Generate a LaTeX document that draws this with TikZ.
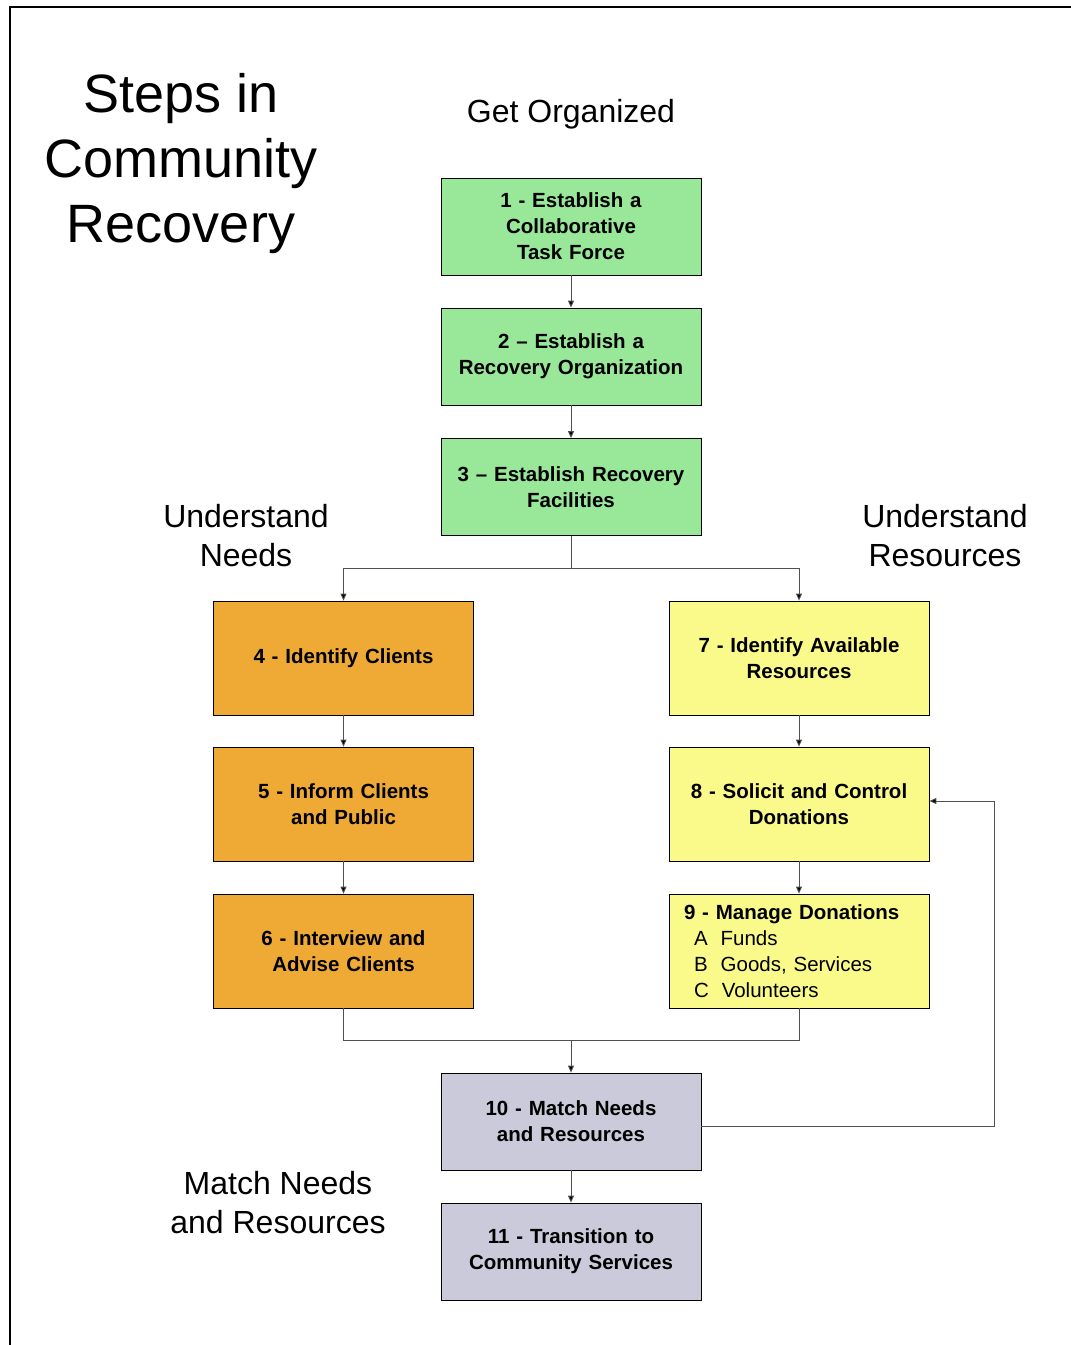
\documentclass[tikz,border=0pt]{standalone}
\usepackage{fontspec}
\setmainfont{Liberation Sans}
\usetikzlibrary{arrows.meta}
\definecolor{stepgreen}{RGB}{153,232,153}
\definecolor{steporange}{RGB}{238,170,53}
\definecolor{stepyellow}{RGB}{250,250,138}
\definecolor{steplilac}{RGB}{202,202,218}
\definecolor{linkgray}{RGB}{80,80,80}
\begin{document}
\begin{tikzpicture}[x=1pt,y=-1pt,
  stepbox/.style={draw=black, line width=0.8pt, minimum width=260pt, inner sep=0pt,
    text width=250pt, align=center, font=\bfseries\fontsize{20.5}{26}\selectfont},
  shortbox/.style={stepbox, minimum height=97pt},
  tallbox/.style={stepbox, minimum height=114pt},
  link/.style={draw=linkgray, line width=0.9pt, -{Triangle[length=7pt,width=6pt,fill=black]}},
  plain/.style={draw=linkgray, line width=0.9pt},
  heading/.style={align=center, font=\fontsize{32}{39}\selectfont}]
\useasboundingbox (0,0) rectangle (1071,1345);
% page frame
\draw[line width=1.6pt] (10,1345) -- (10,7) -- (1071,7);

% headings
\node[align=center, font=\fontsize{54}{65}\selectfont] (title) at (181,164) {Steps in\\Community\\Recovery};
\node[heading] (hgo) at (571,114) {Get Organized};
\node[heading] (hneeds) at (246,536) {Understand\\Needs};
\node[heading] (hres) at (945,536) {Understand\\Resources};
\node[heading] (hmatch) at (278,1203) {Match Needs\\and Resources};

% organisation column
\node[shortbox, fill=stepgreen] (s1) at (571,226.5) {1 - Establish a\\Collaborative\\Task Force};
\node[shortbox, fill=stepgreen] (s2) at (571,356.5) {2 -- Establish a\\Recovery Organization};
\node[shortbox, fill=stepgreen] (s3) at (571,487) {3 -- Establish Recovery\\Facilities};

% needs column
\node[tallbox, fill=steporange] (s4) at (343.5,658) {4 - Identify Clients};
\node[tallbox, fill=steporange] (s5) at (343.5,804) {5 - Inform Clients\\and Public};
\node[tallbox, fill=steporange] (s6) at (343.5,951) {6 - Interview and\\Advise Clients};

% resources column
\node[tallbox, fill=stepyellow] (s7) at (799,658) {7 - Identify Available\\Resources};
\node[tallbox, fill=stepyellow] (s8) at (799,804) {8 - Solicit and Control\\Donations};
\node[tallbox, fill=stepyellow, align=left, text width=230pt,
      font=\fontsize{20.5}{26}\selectfont] (s9) at (799,951)
  {\textbf{9 - Manage Donations}\\
   \hspace*{10pt}A\hspace{13pt}Funds\\
   \hspace*{10pt}B\hspace{13pt}Goods, Services\\
   \hspace*{10pt}C\hspace{13pt}Volunteers};

% matching column
\node[shortbox, fill=steplilac] (s10) at (571,1121.5) {10 - Match Needs\\and Resources};
\node[shortbox, fill=steplilac] (s11) at (571,1251.5) {11 - Transition to\\Community Services};

% junction points
\coordinate (split) at (571,568);
\coordinate (join) at (571,1040);
\coordinate (loop) at (994,1126);

% connectors
\draw[link] (s1) -- (s2);
\draw[link] (s2) -- (s3);
\draw[plain] (s3) -- (split);
\draw[link] (split) -| (s4);
\draw[link] (split) -| (s7);
\draw[link] (s4) -- (s5);
\draw[link] (s5) -- (s6);
\draw[link] (s7) -- (s8);
\draw[link] (s8) -- (s9);
\draw[plain] (s6.south) |- (join);
\draw[plain] (s9.south) |- (join);
\draw[link] (join) -- (s10);
\draw[link] (s10.east |- loop) -- (loop) |- (s8.east |- 0,801);
\draw[link] (s10) -- (s11);
\end{tikzpicture}
\end{document}
